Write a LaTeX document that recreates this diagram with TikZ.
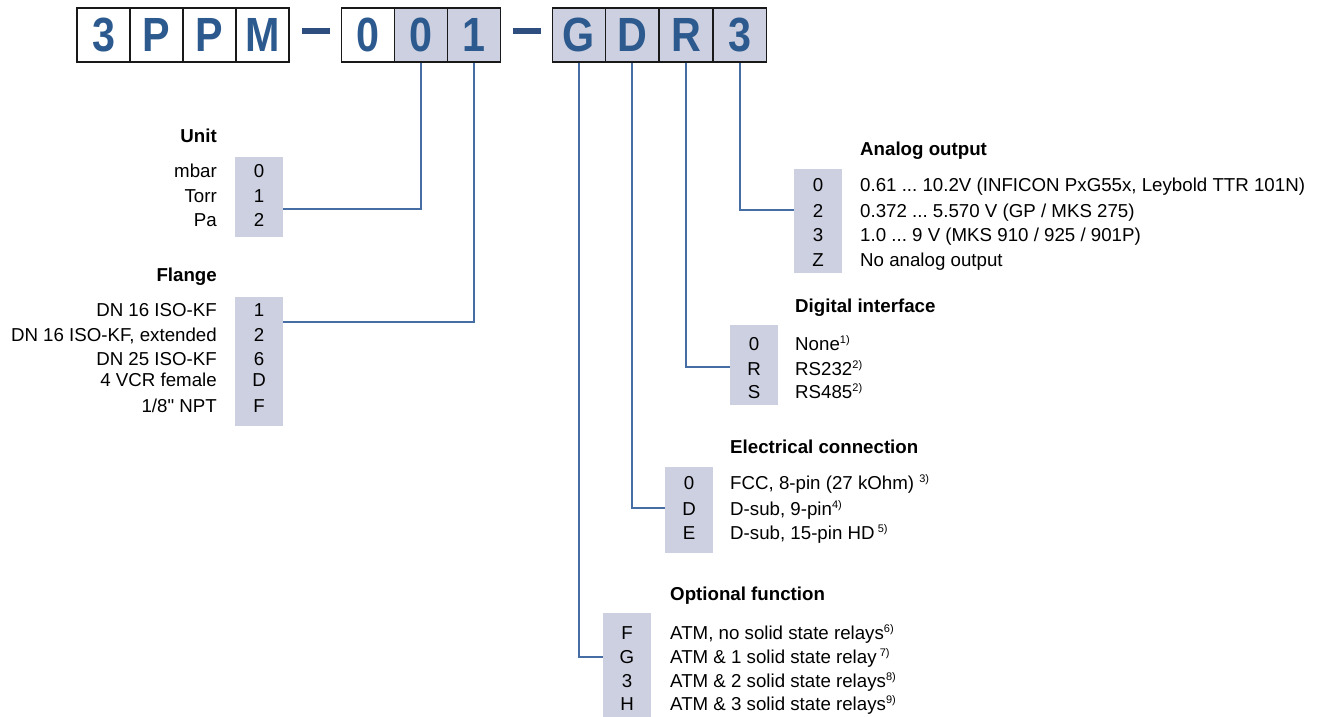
\documentclass[tikz,border=0pt]{standalone}
\usepackage{fontspec}
\setmainfont{Liberation Sans}
\newfontfamily\plainsans{Liberation Sans}
\definecolor{codeblue}{RGB}{44,90,142}
\definecolor{dashblue}{RGB}{46,78,128}
\definecolor{boxgrey}{RGB}{205,208,224}
\definecolor{lineblue}{RGB}{70,110,165}
\newcommand\fsz{\fontsize{18.7}{22}\selectfont\frenchspacing}
\newcommand\sups[1]{\raisebox{6.5pt}{\fontsize{11}{11}\selectfont #1}}
\newcommand\cl[1]{\scalebox{0.86}[1]{#1}}
\tikzset{
 codebox/.style={draw=black!90, line width=1.6pt, minimum width=53pt, minimum height=54pt, inner sep=0pt, font=\fontsize{48}{48}\selectfont\bfseries, text=codeblue},
 codegrey/.style={codebox, fill=boxgrey},
 codedash/.style={fill=dashblue, minimum width=28pt, minimum height=5.5pt, inner sep=0pt},
 optbox/.style={fill=boxgrey, inner sep=0pt, minimum width=48pt},
 conn/.style={draw=lineblue, line width=1.1pt},
 lbl/.style={inner sep=0pt, font=\fsz},
 head/.style={inner sep=0pt, font=\fsz\bfseries},
}
\begin{document}
\begin{tikzpicture}[x=1pt,y=-1pt]
\useasboundingbox (0,0) rectangle (1320,717);
% top code
\node[codebox] (b1) at (103.5,35) {\cl{3}};
\node[codebox] (b2) at (156.5,35) {\cl{P}};
\node[codebox] (b3) at (209.5,35) {\cl{P}};
\node[codebox] (b4) at (262.5,35) {\cl{M}};
\node[codedash] (d1) at (316,31) {};
\node[codebox] (b5) at (368,35) {\cl{0}};
\node[codegrey] (b6) at (421,35) {\cl{0}};
\node[codegrey] (b7) at (474,35) {\cl{1}};
\node[codedash] (d2) at (526.5,31) {};
\node[codegrey] (b8) at (579,35) {\cl{G}};
\node[codegrey] (b9) at (632,35) {\cl{D}};
\node[codegrey] (b10) at (686,35) {\cl{R}};
\node[codegrey] (b11) at (740,35) {\cl{3}};

% Unit
\node[head, anchor=base east] (hunit) at (217,142) {Unit};
\node[optbox, minimum height=80pt] (unit) at (259,197) {};
\node[lbl, anchor=base east] (u0l) at (217,177) {mbar};
\node[lbl, anchor=base east] (u1l) at (217,202) {Torr};
\node[lbl, anchor=base east] (u2l) at (217,226) {Pa};
\node[lbl, anchor=base] (u0) at (259,177) {0};
\node[lbl, anchor=base] (u1) at (259,202) {1};
\node[lbl, anchor=base] (u2) at (259,226) {2};
\coordinate (cu) at (283,209);
\draw[conn] (b6.south) |- (cu);

% Flange
\node[head, anchor=base east] (hfl) at (217,281) {Flange};
\node[optbox, minimum height=129pt] (fl) at (259,361.5) {};
\node[lbl, anchor=base east] (f1l) at (217,316) {DN 16 ISO-KF};
\node[lbl, anchor=base east] (f2l) at (217,341) {DN 16 ISO-KF, extended};
\node[lbl, anchor=base east] (f3l) at (217,365) {DN 25 ISO-KF};
\node[lbl, anchor=base east] (f4l) at (217,386) {4 VCR female};
\node[lbl, anchor=base east] (f5l) at (217,412) {\plainsans 1/8" NPT};
\node[lbl, anchor=base] (f1) at (259,316) {1};
\node[lbl, anchor=base] (f2) at (259,341) {2};
\node[lbl, anchor=base] (f3) at (259,365) {6};
\node[lbl, anchor=base] (f4) at (259,386) {D};
\node[lbl, anchor=base] (f5) at (259,412) {F};
\coordinate (cf) at (283,322);
\draw[conn] (b7.south) |- (cf);

% Analog output
\node[head, anchor=base west] (han) at (860,155) {Analog output};
\node[optbox, minimum height=104pt] (an) at (818,221) {};
\node[lbl, anchor=base] (a0) at (818,191) {0};
\node[lbl, anchor=base] (a2) at (818,217) {2};
\node[lbl, anchor=base] (a3) at (818,241) {3};
\node[lbl, anchor=base] (aZ) at (818,266) {Z};
\node[lbl, anchor=base west] (a0t) at (860,191) {0.61 ... 10.2V (INFICON PxG55x, Leybold TTR 101N)};
\node[lbl, anchor=base west] (a2t) at (860,217) {0.372 ... 5.570 V (GP / MKS 275)};
\node[lbl, anchor=base west] (a3t) at (860,241) {1.0 ... 9 V (MKS 910 / 925 / 901P)};
\node[lbl, anchor=base west] (aZt) at (860,266) {No analog output};
\coordinate (ca) at (794,210);
\draw[conn] (b11.south) |- (ca);

% Digital interface
\node[head, anchor=base west] (hdi) at (795,312) {Digital interface};
\node[optbox, minimum height=80pt] (di) at (754,365) {};
\node[lbl, anchor=base] (d0) at (754,350) {0};
\node[lbl, anchor=base] (dR) at (754,375) {R};
\node[lbl, anchor=base] (dS) at (754,398) {S};
\node[lbl, anchor=base west] (d0t) at (795,350) {None\sups{1)}};
\node[lbl, anchor=base west] (dRt) at (795,375) {RS232\sups{2)}};
\node[lbl, anchor=base west] (dSt) at (795,398) {RS485\sups{2)}};
\coordinate (cd) at (730,367);
\draw[conn] (b10.south) |- (cd);

% Electrical connection
\node[head, anchor=base west] (hel) at (730,453) {Electrical connection};
\node[optbox, minimum height=86pt] (el) at (689,510) {};
\node[lbl, anchor=base] (e0) at (689,489) {0};
\node[lbl, anchor=base] (eD) at (689,515) {D};
\node[lbl, anchor=base] (eE) at (689,539) {E};
\node[lbl, anchor=base west] (e0t) at (730,489) {FCC, 8-pin (27 kOhm) \sups{3)}};
\node[lbl, anchor=base west] (eDt) at (730,515) {D-sub, 9-pin\sups{4)}};
\node[lbl, anchor=base west] (eEt) at (730,539) {D-sub, 15-pin HD\,\sups{5)}};
\coordinate (ce) at (665,508);
\draw[conn] (b9.south) |- (ce);

% Optional function
\node[head, anchor=base west] (hop) at (670,600) {Optional function};
\node[optbox, minimum height=104pt] (op) at (627,665) {};
\node[lbl, anchor=base] (oF) at (627,639) {F};
\node[lbl, anchor=base] (oG) at (627,663) {G};
\node[lbl, anchor=base] (o3) at (627,687) {3};
\node[lbl, anchor=base] (oH) at (627,710) {H};
\node[lbl, anchor=base west] (oFt) at (670,639) {ATM, no solid state relays\sups{6)}};
\node[lbl, anchor=base west] (oGt) at (670,663) {ATM \& 1 solid state relay\,\sups{7)}};
\node[lbl, anchor=base west] (o3t) at (670,687) {ATM \& 2 solid state relays\sups{8)}};
\node[lbl, anchor=base west] (oHt) at (670,710) {ATM \& 3 solid state relays\sups{9)}};
\coordinate (co) at (603,657);
\draw[conn] (b8.south) |- (co);
\end{tikzpicture}
\end{document}
